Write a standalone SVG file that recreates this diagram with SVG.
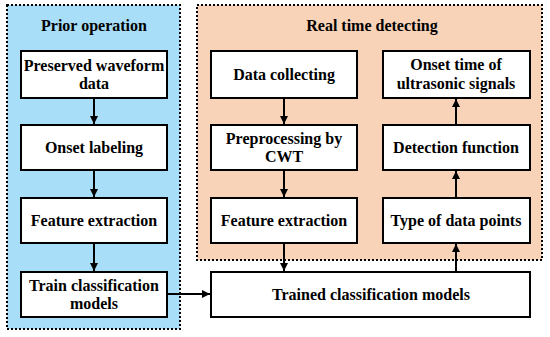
<svg xmlns="http://www.w3.org/2000/svg" width="550" height="337" viewBox="0 0 550 337">
<defs>
<style>
.panel{stroke:#000;stroke-width:2;stroke-dasharray:2,2}
.box{fill:#fff;stroke:#000;stroke-width:2}
.t{font-weight:bold;font-size:16px;fill:#000;text-anchor:middle}
.c{stroke:#000;stroke-width:2;fill:none;marker-end:url(#ah)}
</style>
<marker id="ah" viewBox="0 0 10 10" refX="10" refY="5" markerWidth="8" markerHeight="8" markerUnits="userSpaceOnUse" orient="auto">
<path d="M0,0 L10,5 L0,10 Z" fill="#000"/>
</marker>
</defs>
<rect width="550" height="337" fill="#fff"/>
<g font-family="Liberation Serif, Times New Roman, serif">
<g id="prior-panel">
<rect class="panel" x="7" y="5" width="173" height="324" fill="#a8def8"/>
<text class="t" x="94" y="31">Prior operation</text>
</g>
<g id="realtime-panel">
<rect class="panel" x="197" y="5" width="345" height="255" fill="#f9d3b8"/>
<text class="t" x="372" y="31">Real time detecting</text>
</g>
<g id="preserved">
<rect class="box" x="21" y="51" width="146" height="47"/>
<text class="t" x="94" y="71">Preserved waveform</text>
<text class="t" x="94" y="89">data</text>
</g>
<g id="onset-labeling">
<rect class="box" x="21" y="125" width="146" height="45"/>
<text class="t" x="94" y="153">Onset labeling</text>
</g>
<g id="feature-left">
<rect class="box" x="21" y="198" width="146" height="45"/>
<text class="t" x="94" y="226">Feature extraction</text>
</g>
<g id="train">
<rect class="box" x="21" y="272" width="146" height="45"/>
<text class="t" x="94" y="291">Train classification</text>
<text class="t" x="94" y="309">models</text>
</g>
<g id="data-collecting">
<rect class="box" x="211" y="51" width="146" height="47"/>
<text class="t" x="284" y="80">Data collecting</text>
</g>
<g id="preprocessing">
<rect class="box" x="211" y="125" width="146" height="45"/>
<text class="t" x="284" y="144">Preprocessing by</text>
<text class="t" x="284" y="162">CWT</text>
</g>
<g id="feature-right">
<rect class="box" x="211" y="198" width="146" height="45"/>
<text class="t" x="284" y="226">Feature extraction</text>
</g>
<g id="onset-time">
<rect class="box" x="383" y="51" width="147" height="47"/>
<text class="t" x="456" y="70">Onset time of</text>
<text class="t" x="456" y="89">ultrasonic signals</text>
</g>
<g id="detection">
<rect class="box" x="383" y="125" width="147" height="45"/>
<text class="t" x="456" y="153">Detection function</text>
</g>
<g id="type-points">
<rect class="box" x="383" y="198" width="147" height="45"/>
<text class="t" x="456" y="226">Type of data points</text>
</g>
<g id="trained">
<rect class="box" x="211" y="272" width="319" height="45"/>
<text class="t" x="371" y="300">Trained classification models</text>
</g>
</g>
<g id="connectors">
<line class="c" x1="94" y1="98" x2="94" y2="124"/>
<line class="c" x1="94" y1="170" x2="94" y2="197"/>
<line class="c" x1="94" y1="243" x2="94" y2="271"/>
<line class="c" x1="167" y1="294" x2="210" y2="294"/>
<line class="c" x1="284" y1="98" x2="284" y2="124"/>
<line class="c" x1="284" y1="170" x2="284" y2="197"/>
<line class="c" x1="284" y1="243" x2="284" y2="271"/>
<line class="c" x1="456" y1="272" x2="456" y2="244"/>
<line class="c" x1="456" y1="198" x2="456" y2="171"/>
<line class="c" x1="456" y1="125" x2="456" y2="99"/>
</g>
</svg>
